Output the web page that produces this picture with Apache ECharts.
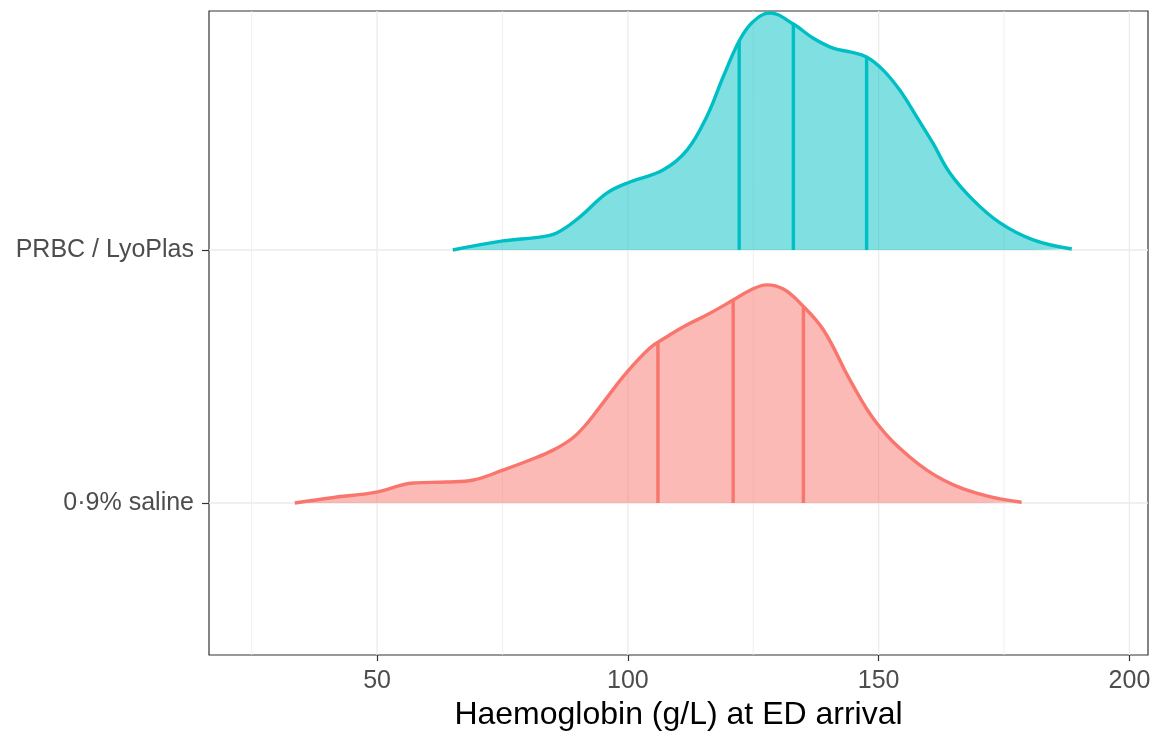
<!DOCTYPE html>
<html>
<head>
<meta charset="utf-8">
<script src="https://cdn.jsdelivr.net/npm/echarts@6/dist/echarts.min.js"></script>
<style>html,body{margin:0;padding:0;background:#fff}#c{width:1159px;height:736px}</style>
</head>
<body>
<div id="c"></div>
<script>
// ---- data ----
var categories = ['0·9% saline', 'PRBC / LyoPlas'];
var seriesColors = ['#F8766D', '#00BFC4'];
// density ridge for 0·9% saline: x values and scaled heights (row units)
var salineX = [33.6, 40.6, 49.9, 57.2, 63.9, 69.2, 75.1, 80.5, 85.1, 89, 92, 94.4, 99.7, 104.4, 107.7, 111, 115.7, 121, 124.5, 127.7, 131, 134.3, 139, 144.3, 149.6, 156.2, 162.9, 170.8, 178.5];
var salineH = [0, 0.020, 0.043, 0.079, 0.083, 0.091, 0.130, 0.170, 0.209, 0.257, 0.318, 0.379, 0.514, 0.613, 0.656, 0.696, 0.743, 0.802, 0.842, 0.862, 0.846, 0.791, 0.684, 0.486, 0.316, 0.182, 0.091, 0.032, 0.003];
// density ridge for PRBC / LyoPlas
var prbcX = [65.1, 75.1, 82.4, 85.8, 90.4, 95.8, 100.4, 107, 111.8, 115.7, 119, 122.3, 124.9, 128.3, 133, 136.9, 140.9, 144.3, 147.6, 150.9, 154.2, 157.6, 160.8, 164.2, 168.8, 174.2, 180.8, 188.5];
var prbcH = [0, 0.036, 0.051, 0.067, 0.130, 0.225, 0.269, 0.316, 0.395, 0.526, 0.684, 0.830, 0.901, 0.937, 0.893, 0.838, 0.798, 0.783, 0.763, 0.711, 0.632, 0.526, 0.423, 0.304, 0.198, 0.107, 0.040, 0.004];
// quartiles
var salineQ = [106, 121, 135];
var prbcQ = [122.2, 133, 147.6];
// ticks
var xTicks = [50, 100, 150, 200];
var xMinorGrid = [25, 75, 125, 175];
var xTitle = 'Haemoglobin (g/L) at ED arrival';

// ---- build ----
function interp(xs, hs, q) {
  for (var i = 0; i < xs.length - 1; i++) {
    if (q >= xs[i] && q <= xs[i + 1]) {
      var t = (q - xs[i]) / (xs[i + 1] - xs[i]);
      return hs[i] + t * (hs[i + 1] - hs[i]);
    }
  }
  return 0;
}
function ridge(xs, hs, base) {
  return xs.map(function (x, i) { return [x, base + hs[i]]; });
}
var ridges = [
  {x: salineX, h: salineH, q: salineQ, base: 1, color: seriesColors[0], fill: 'rgba(248,118,109,0.5)'},
  {x: prbcX, h: prbcH, q: prbcQ, base: 2, color: seriesColors[1], fill: 'rgba(0,191,196,0.5)'}
];
var FONT = 'Liberation Sans, Arial, sans-serif';

var series = [];
// gridlines
series.push({
  type: 'custom', z: 0, silent: true,
  data: xTicks.map(function (v) { return [v, 1]; }).concat(xMinorGrid.map(function (v) { return [v, 0]; })),
  renderItem: function (params, api) {
    var cs = params.coordSys;
    var p = api.coord([api.value(0), 1]);
    var major = api.value(1) === 1;
    return {type: 'line', shape: {x1: p[0], y1: cs.y, x2: p[0], y2: cs.y + cs.height},
      style: {stroke: '#EBEBEB', lineWidth: major ? 1.3 : 0.8}};
  }
});
series.push({
  type: 'custom', z: 0, silent: true,
  data: [[1], [2]],
  renderItem: function (params, api) {
    var cs = params.coordSys;
    var p = api.coord([0, api.value(0)]);
    return {type: 'line', shape: {x1: cs.x, y1: p[1], x2: cs.x + cs.width, y2: p[1]},
      style: {stroke: '#EBEBEB', lineWidth: 1.3}};
  }
});
ridges.forEach(function (r, k) {
  series.push({
    name: categories[k], type: 'line', z: 2 + k * 2,
    data: ridge(r.x, r.h, r.base),
    smooth: 0.4,
    symbol: 'none',
    lineStyle: {color: r.color, width: 3.4},
    areaStyle: {color: r.fill, origin: r.base, opacity: 1}
  });
  series.push({
    type: 'custom', z: 3 + k * 2, silent: true,
    data: r.q.map(function (q) { return [q, r.base, r.base + interp(r.x, r.h, q)]; }),
    renderItem: function (params, api) {
      var a = api.coord([api.value(0), api.value(1)]);
      var b = api.coord([api.value(0), api.value(2)]);
      return {type: 'line', shape: {x1: a[0], y1: a[1], x2: b[0], y2: b[1]},
        style: {stroke: r.color, lineWidth: 3.4}};
    }
  });
});

var chart = echarts.init(document.getElementById('c'), null, {renderer: 'canvas'});
chart.setOption({
  animation: false,
  backgroundColor: '#fff',
  grid: {left: 209, right: 11, top: 11, bottom: 81, show: true, borderColor: '#333', borderWidth: 1.2, backgroundColor: 'transparent'},
  xAxis: {
    type: 'value', min: 16.5, max: 203.7,
    name: xTitle, nameLocation: 'middle', nameGap: 43,
    nameTextStyle: {color: '#000', fontSize: 32, fontFamily: FONT},
    axisLine: {show: false},
    axisTick: {show: true, length: 6, lineStyle: {color: '#333', width: 1.2}, customValues: xTicks},
    axisLabel: {color: '#4D4D4D', fontSize: 25, fontFamily: FONT, margin: 14, customValues: xTicks},
    splitLine: {show: false}, minorSplitLine: {show: false}
  },
  yAxis: {
    type: 'value', min: 0.3992, max: 2.9447,
    axisLine: {show: false},
    axisTick: {show: true, length: 7, lineStyle: {color: '#333', width: 1.2}, customValues: [1, 2]},
    axisLabel: {color: '#4D4D4D', fontSize: 25, fontFamily: FONT, margin: 15, customValues: [1, 2],
      formatter: function (v) { return categories[Math.round(v) - 1] || ''; }},
    splitLine: {show: false}
  },
  series: series
});
</script>
</body>
</html>
